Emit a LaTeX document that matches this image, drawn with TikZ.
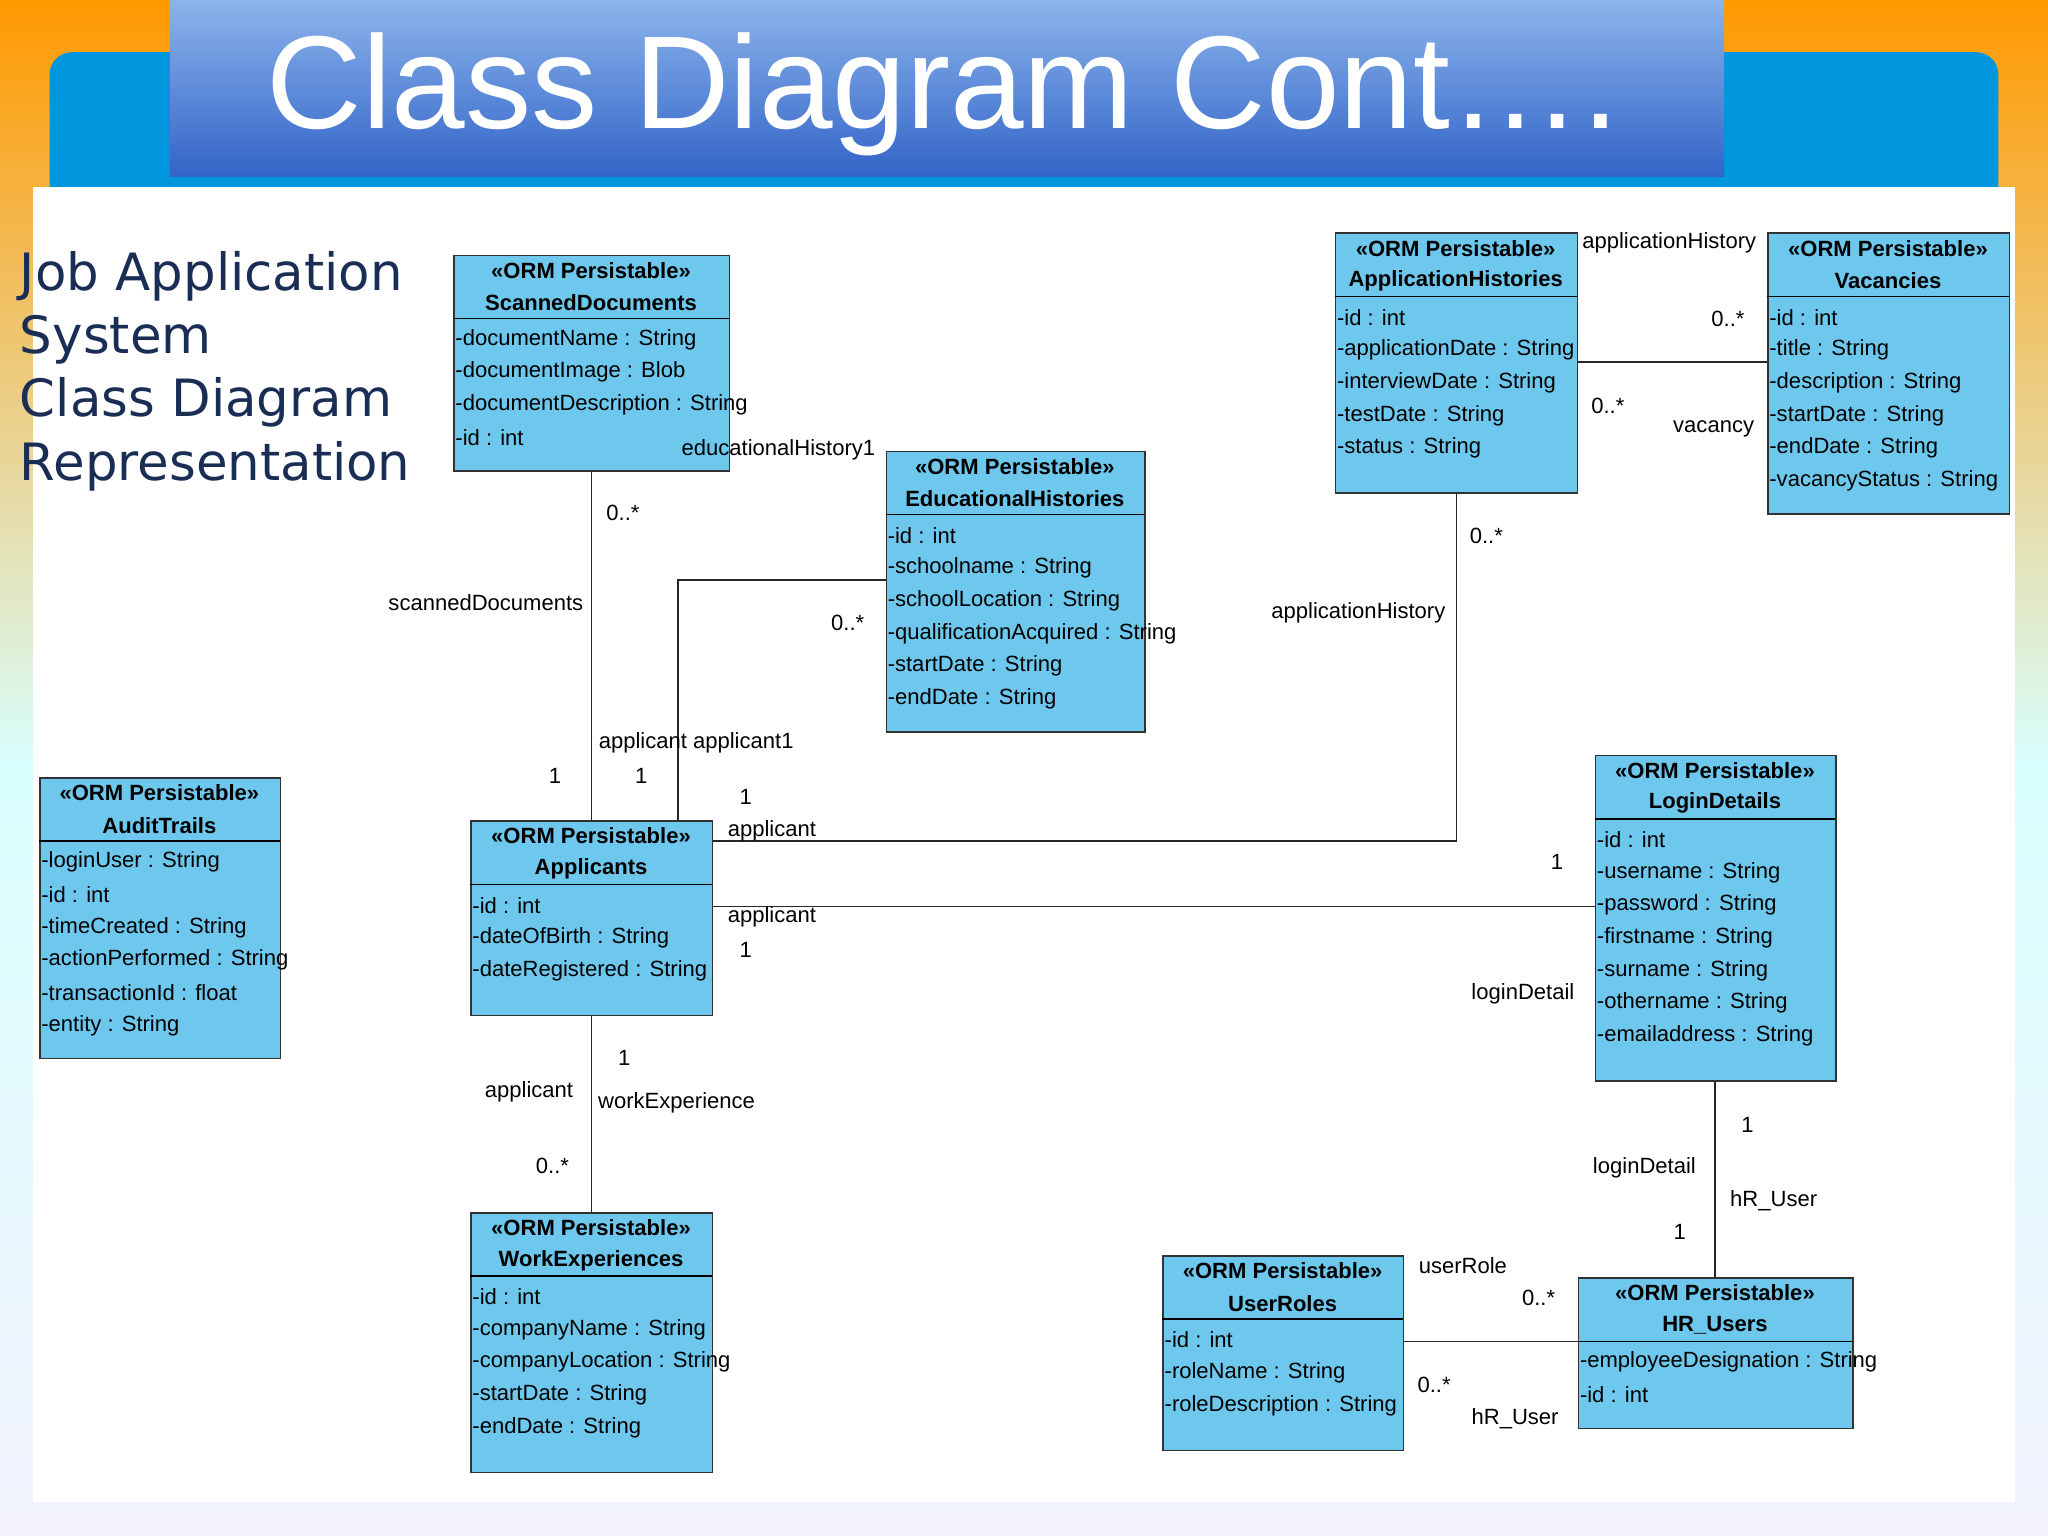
\documentclass[tikz,border=0pt]{standalone}
\usepackage{fontspec}
\setmainfont{Liberation Sans}
\newfontfamily\hand{DejaVu Sans}
\usetikzlibrary{calc}
\definecolor{boxc}{RGB}{110,200,238}
\definecolor{barc}{RGB}{0,150,222}
\definecolor{navy}{RGB}{25,45,85}
\newcommand{\cls}[8]{% name, x1,y1,x2,y2, sep, classname, attrs
  \node[box,minimum width={(#4-#2)*0.025cm},minimum height={(#5-#3)*0.025cm},anchor=north west] (#1) at (#2,#3) {};
  \draw[thick] (#2,#6) -- (#4,#6);
  \node[hd] at ({(#2+#4)/2},#3+12) {<<ORM Persistable>>};
  \node[hd] at ({(#2+#4)/2},#3+37) {#7};
  \foreach \a [count=\i] in {#8} {\node[att] at (#2,{#6+16+25*(\i-1)}) {-\a};}
}
\begin{document}
\begin{tikzpicture}[x=0.025cm,y=-0.025cm,
  box/.style={draw=black!80,thick,fill=boxc,inner sep=0},
  hd/.style={font=\fontsize{12}{14}\selectfont\bfseries,inner sep=0},
  att/.style={font=\fontsize{12}{14}\selectfont,anchor=west,inner sep=0,xshift=1pt},
  lb/.style={font=\fontsize{12}{14}\selectfont,inner sep=0},
  cn/.style={thick,black!85}]
\useasboundingbox (0,0) rectangle (1568,1176);
\shade[top color=orange!80!yellow,bottom color=blue!5,middle color=cyan!15] (0,0) rectangle (1568,1176);
\fill[barc,rounded corners=12] (38,40) rectangle (1530,160);
\fill[white] (25,143) rectangle (1543,1150);
\shade[top color={rgb,255:red,140;green,180;blue,235},bottom color={rgb,255:red,50;green,100;blue,200}] (130,0) rectangle (1320,135);
\node[text=white,font=\fontsize{72}{80}\selectfont] (title) at (722,72) {Class Diagram Cont….};
\node[anchor=north west,align=left,text=navy,font=\hand\fontsize{28}{34.5}\selectfont,inner sep=0] (side) at (15,192) {Job Application\\System\\Class Diagram\\Representation};
\cls{sd}{347}{195}{558}{360}{244}{ScannedDocuments}{documentName : String,documentImage : Blob,documentDescription : String,id : int}
\cls{eh}{678}{345}{876}{560}{394}{EducationalHistories}{id : int,schoolname : String,schoolLocation : String,qualificationAcquired : String,startDate : String,endDate : String}
\cls{ah}{1022}{178}{1207}{377}{227}{ApplicationHistories}{id : int,applicationDate : String,interviewDate : String,testDate : String,status : String}
\cls{va}{1353}{178}{1538}{393}{227}{Vacancies}{id : int,title : String,description : String,startDate : String,endDate : String,vacancyStatus : String}
\cls{au}{30}{595}{214}{810}{644}{AuditTrails}{loginUser : String,id : int,timeCreated : String,actionPerformed : String,transactionId : float,entity : String}
\cls{ap}{360}{628}{545}{777}{677}{Applicants}{id : int,dateOfBirth : String,dateRegistered : String}
\cls{ld}{1221}{578}{1405}{827}{627}{LoginDetails}{id : int,username : String,password : String,firstname : String,surname : String,othername : String,emailaddress : String}
\cls{we}{360}{928}{545}{1127}{977}{WorkExperiences}{id : int,companyName : String,companyLocation : String,startDate : String,endDate : String}
\cls{ur}{890}{961}{1074}{1110}{1010}{UserRoles}{id : int,roleName : String,roleDescription : String}
\cls{hr}{1208}{978}{1418}{1093}{1027}{HR\_Users}{employeeDesignation : String,id : int}
\coordinate (e1) at (519,444); \coordinate (a1) at (1115,644);
\draw[cn] (sd.south -| 453,0) -- (ap.north -| 453,0);
\draw[cn] (eh.west |- e1) -- (e1) -- (ap.north -| e1);
\draw[cn] (ah.south -| a1) -- (a1) -- (ap.east |- a1);
\draw[cn] (ap.east |- 0,694) -- (ld.west |- 0,694);
\draw[cn] (ap.south -| 453,0) -- (we.north -| 453,0);
\draw[cn] (ah.east |- 0,277) -- (va.west |- 0,277);
\draw[cn] (ld.south -| 1313,0) -- (hr.north -| 1313,0);
\draw[cn] (ur.east |- 0,1027) -- (hr.west |- 0,1027);
\node[lb] (l1) at (596,344) {educationalHistory1};
\node[lb] (l2) at (477,393) {0..*};
\node[lb] (l3) at (372,461) {scannedDocuments};
\node[lb] (l4) at (649,477) {0..*};
\node[lb] (l5) at (533,569) {applicant applicant1};
\node[lb] (l6) at (425,594) {1};
\node[lb] (l7) at (491,594) {1};
\node[lb] (l8) at (571,610) {1};
\node[lb] (l9) at (591,636) {applicant};
\node[lb] (l10) at (591,702) {applicant};
\node[lb] (l11) at (571,727) {1};
\node[lb] (l12) at (1192,660) {1};
\node[lb] (l13) at (1166,761) {loginDetail};
\node[lb] (l14) at (1278,186) {applicationHistory};
\node[lb] (l15) at (1323,244) {0..*};
\node[lb] (l16) at (1231,311) {0..*};
\node[lb] (l17) at (1312,328) {vacancy};
\node[lb] (l18) at (1138,410) {0..*};
\node[lb] (l19) at (1040,469) {applicationHistory};
\node[lb] (l20) at (478,810) {1};
\node[lb] (l21) at (405,836) {applicant};
\node[lb] (l22) at (518,844) {workExperience};
\node[lb] (l23) at (423,893) {0..*};
\node[lb] (l24) at (1338,861) {1};
\node[lb] (l25) at (1259,894) {loginDetail};
\node[lb] (l26) at (1358,919) {hR\_User};
\node[lb] (l27) at (1286,943) {1};
\node[lb] (l28) at (1120,969) {userRole};
\node[lb] (l29) at (1178,994) {0..*};
\node[lb] (l30) at (1098,1060) {0..*};
\node[lb] (l31) at (1160,1086) {hR\_User};
\end{tikzpicture}
\end{document}
